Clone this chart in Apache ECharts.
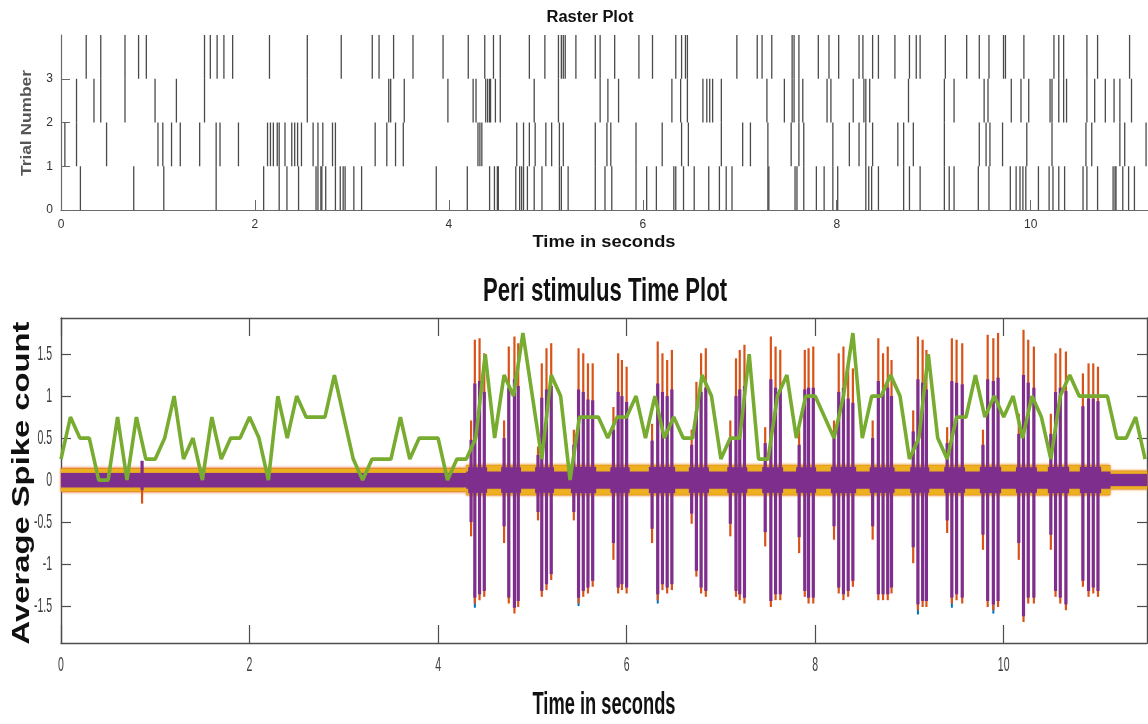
<!DOCTYPE html>
<html>
<head>
<meta charset="utf-8">
<script src="https://cdn.jsdelivr.net/npm/echarts@6/dist/echarts.min.js"></script>
<style>
  html, body { margin: 0; padding: 0; background: #ffffff; }
  #main { width: 1148px; height: 724px; }
</style>
</head>
<body>
<div id="main"></div>
<script>
// ---------------- Raster plot: spike times (s) per trial ----------------
const trial1 = [0.20, 0.75, 1.06, 1.60, 2.09, 2.25, 2.33, 2.45, 2.63, 2.65, 2.68, 2.69, 2.73, 2.83, 2.88, 2.91, 2.93, 3.02, 3.10, 3.87, 4.19, 4.42, 4.47, 4.50, 4.51, 4.69, 4.73, 4.75, 4.77, 4.81, 4.88, 4.96, 5.14, 5.16, 5.23, 5.51, 5.61, 5.68, 5.93, 6.04, 6.14, 6.32, 6.34, 6.42, 6.53, 6.68, 6.79, 6.86, 6.92, 7.29, 7.30, 7.57, 7.59, 7.66, 7.79, 7.87, 7.96, 8.01, 8.30, 8.33, 8.36, 8.43, 8.69, 8.75, 8.86, 9.11, 9.16, 9.21, 9.46, 9.57, 9.79, 9.85, 9.89, 9.92, 9.95, 10.08, 10.19, 10.23, 10.29, 10.35, 10.54, 10.58, 10.69, 10.85, 10.87, 10.88, 10.95, 11.01, 11.07];
const trial2 = [0.04, 0.16, 0.47, 1.00, 1.05, 1.14, 1.23, 1.43, 1.60, 1.64, 1.83, 2.13, 2.16, 2.19, 2.23, 2.25, 2.31, 2.38, 2.41, 2.44, 2.48, 2.60, 2.65, 2.70, 2.80, 2.83, 3.24, 3.36, 3.45, 3.53, 4.30, 4.32, 4.34, 4.70, 4.77, 4.83, 4.89, 5.00, 5.06, 5.14, 5.18, 5.51, 5.63, 5.67, 5.93, 6.20, 6.40, 6.47, 6.81, 7.03, 7.11, 7.29, 7.53, 7.61, 7.66, 7.96, 8.13, 8.23, 8.30, 8.37, 8.63, 8.69, 8.79, 9.11, 9.47, 9.54, 9.58, 9.71, 9.96, 10.22, 10.57, 10.63, 10.92, 10.97, 11.19];
const trial3 = [0.16, 0.34, 0.41, 0.66, 0.97, 1.19, 1.48, 2.54, 3.38, 3.40, 3.54, 3.99, 4.25, 4.28, 4.38, 4.40, 4.42, 4.43, 4.48, 4.53, 4.88, 5.13, 5.56, 5.64, 5.75, 6.30, 6.39, 6.46, 6.62, 6.66, 6.69, 6.72, 6.81, 7.28, 7.46, 7.54, 7.56, 7.61, 7.65, 7.90, 7.94, 8.17, 8.28, 8.30, 8.34, 8.74, 9.11, 9.21, 9.52, 9.56, 9.80, 9.90, 9.98, 10.20, 10.22, 10.29, 10.34, 10.37, 10.58, 10.66, 10.77, 10.86, 10.92, 11.04];
const trial4 = [0.26, 0.41, 0.66, 0.80, 0.88, 1.48, 1.54, 1.61, 1.68, 1.77, 2.15, 2.54, 2.89, 3.21, 3.28, 3.43, 3.63, 3.94, 4.20, 4.37, 4.46, 4.53, 4.83, 4.99, 5.13, 5.16, 5.18, 5.20, 5.31, 5.51, 5.56, 5.71, 5.96, 6.10, 6.34, 6.40, 6.44, 6.46, 6.97, 7.18, 7.23, 7.33, 7.54, 7.56, 7.61, 7.81, 7.92, 8.02, 8.23, 8.27, 8.37, 8.43, 8.60, 8.75, 8.82, 8.86, 9.12, 9.34, 9.47, 9.57, 9.72, 9.74, 9.93, 10.24, 10.29, 10.34, 10.58, 10.69, 11.02];

const rasterTimeTicks = [0, 2, 4, 6, 8, 10];
const rasterTrialTicks = [0, 1, 2, 3];

// ---------------- PSTH: average spike count per 100 ms bin ----------------
const psthBinWidth = 0.1;
const psthCounts = [
  0.25, 0.75, 0.5, 0.5, 0, 0, 0.75, 0, 0.75, 0.25,
  0.25, 0.5, 1.0, 0.25, 0.5, 0, 0.75, 0.25, 0.5, 0.5,
  0.75, 0.5, 0, 1.0, 0.5, 1.0, 0.75, 0.75, 0.75, 1.25,
  0.75, 0.25, 0, 0.25, 0.25, 0.25, 0.75, 0.25, 0.5, 0.5,
  0.5, 0, 0.25, 0.25, 0.5, 1.5, 0.5, 1.25, 1.0, 1.75,
  1.0, 0.25, 1.25, 1.0, 0, 0.75, 0.75, 0.75, 0.5, 0.75,
  0.75, 1.0, 0.5, 1.0, 0.5, 0.75, 0.5, 0.5, 1.25, 1.0,
  0.25, 0.5, 0.5, 1.5, 0.25, 0.25, 1.0, 1.25, 0.5, 1.0,
  1.0, 0.75, 0.5, 1.0, 1.75, 0.5, 1.0, 1.0, 1.25, 1.0,
  0.25, 0.5, 1.5, 0.5, 0.25, 0.75, 0.75, 1.25, 0.75, 1.0,
  0.75, 1.0, 0.5, 1.0, 0.75, 0.25, 1.0, 1.25, 1.0, 1.0,
  1.0, 1.0, 0.5, 0.5, 0.75, 0.25
];

// ---------------- Recorded traces: spike events (s) and their extremes ----------------
const spikeTime = [0.86,
  4.35, 4.39, 4.44, 4.49,  4.70, 4.75, 4.81, 4.85,  5.06, 5.10, 5.15, 5.20,  5.44, 5.49, 5.54, 5.59, 5.64,
  5.86, 5.91, 5.95, 6.00,  6.27, 6.33, 6.38, 6.43, 6.48,  6.69, 6.74, 6.79, 6.84,  7.10, 7.16, 7.20, 7.25,
  7.47, 7.53, 7.58, 7.63,  7.83, 7.89, 7.93, 7.98,  8.20, 8.25, 8.30, 8.35, 8.40,  8.61, 8.67, 8.72, 8.77, 8.81,
  9.04, 9.09, 9.14, 9.18,  9.40, 9.45, 9.50, 9.56,  9.78, 9.83, 9.89, 9.94,  10.16, 10.21, 10.26, 10.32,
  10.50, 10.55, 10.60, 10.66,  10.84, 10.90, 10.95, 11.00];
const orangeHi = [0.16,
  0.71, 1.67, 1.69, 1.51,  0.71, 1.59, 1.71, 1.63,  0.40, 1.39, 1.57, 1.63,  0.60, 1.57, 1.51, 1.39, 1.39,
  0.87, 1.51, 1.43, 1.35,  0.67, 1.65, 1.51, 1.43, 1.55,  0.60, 1.17, 1.51, 1.57,  0.71, 1.45, 1.55, 1.61,
  0.63, 1.71, 1.59, 1.55,  0.60, 1.55, 1.57, 1.59,  0.71, 1.51, 1.59, 1.39, 1.33,  0.71, 1.69, 1.51, 1.59, 1.43,
  0.83, 1.71, 1.67, 1.55,  0.63, 1.69, 1.67, 1.63,  0.60, 1.73, 1.69, 1.75,  0.79, 1.79, 1.67, 1.59,
  0.79, 1.51, 1.57, 1.53,  1.27, 1.39, 1.39, 1.35];
const purpleHi = [0.23,
  0.48, 1.15, 1.18, 1.05,  0.50, 1.10, 1.20, 1.12,  0.30, 0.98, 1.08, 1.12,  0.42, 1.08, 1.05, 0.96, 0.95,
  0.60, 1.05, 1.00, 0.93,  0.47, 1.15, 1.05, 1.00, 1.08,  0.42, 0.82, 1.05, 1.10,  0.50, 1.00, 1.08, 1.12,
  0.44, 1.20, 1.10, 1.08,  0.42, 1.08, 1.10, 1.10,  0.50, 1.05, 1.10, 0.97, 0.92,  0.50, 1.18, 1.05, 1.10, 1.00,
  0.58, 1.20, 1.16, 1.08,  0.44, 1.18, 1.16, 1.14,  0.42, 1.20, 1.18, 1.22,  0.55, 1.25, 1.16, 1.10,
  0.55, 1.05, 1.10, 1.06,  0.88, 0.97, 0.97, 0.94];
const purpleLo = [-0.12,
  -0.50, -1.40, -1.36, -1.32,  -0.55, -1.40, -1.52, -1.44,  -0.38, -1.32, -1.24, -1.12,  -0.38, -1.40, -1.32, -1.28, -1.20,
  -0.75, -1.28, -1.24, -1.28,  -0.58, -1.36, -1.24, -1.28, -1.24,  -0.40, -1.08, -1.28, -1.32,  -0.52, -1.32, -1.36, -1.40,
  -0.62, -1.44, -1.36, -1.36,  -0.68, -1.32, -1.40, -1.40,  -0.55, -1.28, -1.36, -1.32, -1.20,  -0.55, -1.36, -1.36, -1.36, -1.28,
  -0.80, -1.48, -1.44, -1.44,  -0.48, -1.40, -1.36, -1.40,  -0.65, -1.44, -1.48, -1.44,  -0.75, -1.62, -1.40, -1.40,
  -0.65, -1.32, -1.40, -1.48,  -1.20, -1.32, -1.28, -1.32];
const orangeLo = [-0.28,
  -0.67, -1.47, -1.43, -1.39,  -0.75, -1.47, -1.59, -1.51,  -0.48, -1.39, -1.31, -1.19,  -0.48, -1.47, -1.39, -1.35, -1.27,
  -0.95, -1.35, -1.31, -1.35,  -0.75, -1.43, -1.31, -1.35, -1.31,  -0.52, -1.15, -1.35, -1.39,  -0.67, -1.39, -1.43, -1.47,
  -0.79, -1.51, -1.43, -1.43,  -0.87, -1.39, -1.47, -1.47,  -0.71, -1.35, -1.43, -1.39, -1.27,  -0.71, -1.43, -1.43, -1.43, -1.35,
  -0.99, -1.55, -1.51, -1.51,  -0.63, -1.47, -1.43, -1.47,  -0.83, -1.51, -1.55, -1.51,  -0.95, -1.69, -1.47, -1.47,
  -0.83, -1.39, -1.47, -1.55,  -1.27, -1.39, -1.35, -1.39];
const blueTime = [4.39, 5.49, 6.33, 9.09, 9.45, 9.89];
const blueLo = [-1.52, -1.50, -1.47, -1.60, -1.52, -1.59];
const blueHi = [-1.20, -1.20, -1.20, -1.30, -1.20, -1.30];

// Background noise band of the traces (segment start/end in s, half-widths)
const bandStart = [0, 4.30, 11.13];
const bandEnd = [4.30, 11.13, 11.52];
const orangeHalf = [0.14, 0.18, 0.11];
const yellowHalf = [0.135, 0.175, 0.105];
const purpleHalf = [0.085, 0.10, 0.07];
// Noise broadens during each burst
const burstStart = [4.32, 4.67, 5.03, 5.41, 5.83, 6.24, 6.66, 7.07, 7.44, 7.80, 8.17, 8.58, 9.01, 9.37, 9.75, 10.13, 10.47, 10.81];
const burstEnd = [4.52, 4.88, 5.23, 5.67, 6.03, 6.51, 6.87, 7.28, 7.66, 8.01, 8.43, 8.84, 9.21, 9.59, 9.97, 10.35, 10.69, 11.03];
const burstHalf = [0.15, 0.15, 0.15, 0.15, 0.15, 0.15, 0.15, 0.15, 0.15, 0.15, 0.15, 0.15, 0.15, 0.15, 0.15, 0.15, 0.15, 0.15];

const psthTimeTicks = [0, 2, 4, 6, 8, 10];
const psthCountTicks = [-1.5, -1, -0.5, 0, 0.5, 1, 1.5];
const psthCountLabels = ['-1.5', '-1', '-0.5', '0', '0.5', '1', '1.5'];

// ---------------- Colours ----------------
const C_BLUE = '#0072BD', C_ORANGE = '#D95319', C_YELLOW = '#EDB120', C_PURPLE = '#7E2F8E', C_GREEN = '#77AC30';
const FONT = '"Liberation Sans", Arial, Helvetica, sans-serif';

// ---------------- Series data built from the arrays ----------------
const rasterData = [];
[trial1, trial2, trial3, trial4].forEach((arr, row) => arr.forEach(t => rasterData.push([t, row])));

const psthLine = psthCounts.map((v, i) => [Number((i * psthBinWidth).toFixed(2)), v]);

const bandOf = halves => bandStart.map((s, i) => [s, bandEnd[i], halves[i]]);
const burstBand = burstStart.map((s, i) => [s, burstEnd[i], burstHalf[i]]);
const spikeSeg = (lo, hi) => spikeTime.map((t, i) => [t, lo[i], hi[i]]);
const blueSeg = blueTime.map((t, i) => [t, blueLo[i], blueHi[i]]);

// noisy fringe: soft edge
function bandItem(color, blur) {
  return function (params, api) {
    const a = api.coord([api.value(0), api.value(2)]);
    const b = api.coord([api.value(1), -api.value(2)]);
    return { type: 'rect', shape: { x: a[0], y: a[1], width: b[0] - a[0], height: b[1] - a[1] },
             style: { fill: color, shadowBlur: blur, shadowColor: color } };
  };
}
function spikeItem(color, width) {
  return function (params, api) {
    const t = api.value(0);
    const a = api.coord([t, api.value(1)]);
    const b = api.coord([t, api.value(2)]);
    return { type: 'line', shape: { x1: a[0], y1: a[1], x2: b[0], y2: b[1] },
             style: { stroke: color, lineWidth: width } };
  };
}
function rasterItem(params, api) {
  const t = api.value(0), row = api.value(1);
  const a = api.coord([t, row]);
  const b = api.coord([t, row + 1]);
  return { type: 'line', shape: { x1: a[0], y1: a[1], x2: b[0], y2: b[1] },
           style: { stroke: '#4a4a4a', lineWidth: 1.3 } };
}

const psthAxisLine = { show: true, onZero: false, lineStyle: { color: '#4d4d4d', width: 1.4 } };

const chart = echarts.init(document.getElementById('main'), null, { renderer: 'canvas' });

const option = {
  animation: false,
  backgroundColor: '#ffffff',
  grid: [
    { left: 61, top: 35, width: 1087, height: 175 },
    { left: 61, top: 318, width: 1086, height: 325 }
  ],
  xAxis: [
    { gridIndex: 0, type: 'value', min: 0, max: 11.21, position: 'bottom',
      axisLine: { show: true, onZero: false, lineStyle: { color: '#6a6a6a', width: 1.2 } },
      axisTick: { show: true, inside: true, length: 10, customValues: rasterTimeTicks, lineStyle: { color: '#6a6a6a' } },
      axisLabel: { show: true, customValues: rasterTimeTicks, margin: 9, fontSize: 12, color: '#333', fontFamily: FONT },
      splitLine: { show: false } },
    { gridIndex: 1, type: 'value', min: 0, max: 11.52, position: 'bottom',
      axisLine: psthAxisLine,
      axisTick: { show: true, inside: true, length: 18, customValues: psthTimeTicks, lineStyle: { color: '#4d4d4d', width: 1.2 } },
      axisLabel: { show: false }, splitLine: { show: false } },
    { gridIndex: 1, type: 'value', min: 0, max: 11.52, position: 'top',
      axisLine: psthAxisLine,
      axisTick: { show: true, inside: true, length: 18, customValues: psthTimeTicks, lineStyle: { color: '#4d4d4d', width: 1.2 } },
      axisLabel: { show: false }, splitLine: { show: false } }
  ],
  yAxis: [
    { gridIndex: 0, type: 'value', min: 0, max: 4, position: 'left',
      axisLine: { show: true, onZero: false, lineStyle: { color: '#6a6a6a', width: 1.2 } },
      axisTick: { show: true, inside: true, length: 9, customValues: rasterTrialTicks, lineStyle: { color: '#6a6a6a' } },
      axisLabel: { show: true, customValues: rasterTrialTicks, margin: 8, fontSize: 12, color: '#333', fontFamily: FONT },
      splitLine: { show: false } },
    { gridIndex: 1, type: 'value', min: -1.94, max: 1.93, position: 'left',
      axisLine: psthAxisLine,
      axisTick: { show: true, inside: true, length: 10, customValues: psthCountTicks, lineStyle: { color: '#4d4d4d', width: 1.2 } },
      axisLabel: { show: false }, splitLine: { show: false } },
    { gridIndex: 1, type: 'value', min: -1.94, max: 1.93, position: 'right',
      axisLine: psthAxisLine,
      axisTick: { show: true, inside: true, length: 10, customValues: psthCountTicks, lineStyle: { color: '#4d4d4d', width: 1.2 } },
      axisLabel: { show: false }, splitLine: { show: false } }
  ],
  series: [
    { name: 'Raster', type: 'custom', xAxisIndex: 0, yAxisIndex: 0, renderItem: rasterItem,
      encode: { x: 0, y: 1 }, data: rasterData, silent: true },
    { name: 'Noise orange', type: 'custom', xAxisIndex: 1, yAxisIndex: 1, renderItem: bandItem(C_ORANGE, 3),
      encode: { x: [0, 1], y: 2 }, data: bandOf(orangeHalf), silent: true, z: 1 },
    { name: 'Noise yellow', type: 'custom', xAxisIndex: 1, yAxisIndex: 1, renderItem: bandItem(C_YELLOW, 3),
      encode: { x: [0, 1], y: 2 }, data: bandOf(yellowHalf), silent: true, z: 1 },
    { name: 'Spikes blue', type: 'custom', xAxisIndex: 1, yAxisIndex: 1, renderItem: spikeItem(C_BLUE, 2),
      encode: { x: 0, y: [1, 2] }, data: blueSeg, silent: true, z: 2 },
    { name: 'Spikes orange', type: 'custom', xAxisIndex: 1, yAxisIndex: 1, renderItem: spikeItem(C_ORANGE, 2.2),
      encode: { x: 0, y: [1, 2] }, data: spikeSeg(orangeLo, orangeHi), silent: true, z: 2 },
    { name: 'Noise purple', type: 'custom', xAxisIndex: 1, yAxisIndex: 1, renderItem: bandItem(C_PURPLE, 1),
      encode: { x: [0, 1], y: 2 }, data: bandOf(purpleHalf), silent: true, z: 2 },
    { name: 'Burst purple', type: 'custom', xAxisIndex: 1, yAxisIndex: 1, renderItem: bandItem(C_PURPLE, 1),
      encode: { x: [0, 1], y: 2 }, data: burstBand, silent: true, z: 2 },
    { name: 'Spikes purple', type: 'custom', xAxisIndex: 1, yAxisIndex: 1, renderItem: spikeItem(C_PURPLE, 3.2),
      encode: { x: 0, y: [1, 2] }, data: spikeSeg(purpleLo, purpleHi), silent: true, z: 3 },
    { name: 'Average spike count', type: 'line', xAxisIndex: 1, yAxisIndex: 1, data: psthLine,
      showSymbol: false, symbol: 'none', lineStyle: { color: C_GREEN, width: 3.6 }, z: 5, silent: true }
  ]
};
chart.setOption(option);

// ---------------- Text: titles, axis names and PSTH tick labels ----------------
const measure = document.createElement('canvas').getContext('2d');
function fitText(str, cx, cy, targetW, font, color, rotate) {
  measure.font = font;
  const w = measure.measureText(str).width;
  return { type: 'text', x: cx, y: cy, rotation: rotate ? Math.PI / 2 : 0,
           scaleX: targetW / w, scaleY: 1, silent: true, z: 100,
           style: { text: str, font: font, fill: color, textAlign: 'center', textVerticalAlign: 'middle' } };
}

const graphics = [
  fitText('Raster Plot', 590, 18, 87, 'bold 16px ' + FONT, '#111', false),
  fitText('Time in seconds', 604, 243, 143, 'bold 16px ' + FONT, '#111', false),
  fitText('Trial Number', 27, 123, 106, 'bold 14px ' + FONT, '#555', true),
  fitText('Peri stimulus Time Plot', 605, 292, 244, 'bold 33px ' + FONT, '#111', false),
  fitText('Time in seconds', 604, 705, 143, 'bold 31px ' + FONT, '#111', false),
  fitText('Average Spike count', 23, 483, 323, 'bold 23px ' + FONT, '#111', true)
];

const tickFont = '21px ' + FONT;
psthCountTicks.forEach((v, i) => {
  const p = chart.convertToPixel({ gridIndex: 1 }, [0, v]);
  graphics.push({ type: 'text', x: p[0] - 9, y: p[1], scaleX: 0.5, silent: true, z: 100,
    style: { text: psthCountLabels[i], font: tickFont, fill: '#3c3c3c', textAlign: 'right', textVerticalAlign: 'middle' } });
});
psthTimeTicks.forEach(v => {
  const p = chart.convertToPixel({ gridIndex: 1 }, [v, -1.94]);
  graphics.push({ type: 'text', x: p[0], y: p[1] + 22, scaleX: 0.5, silent: true, z: 100,
    style: { text: String(v), font: tickFont, fill: '#3c3c3c', textAlign: 'center', textVerticalAlign: 'middle' } });
});

chart.setOption({ graphic: graphics });
</script>
</body>
</html>
